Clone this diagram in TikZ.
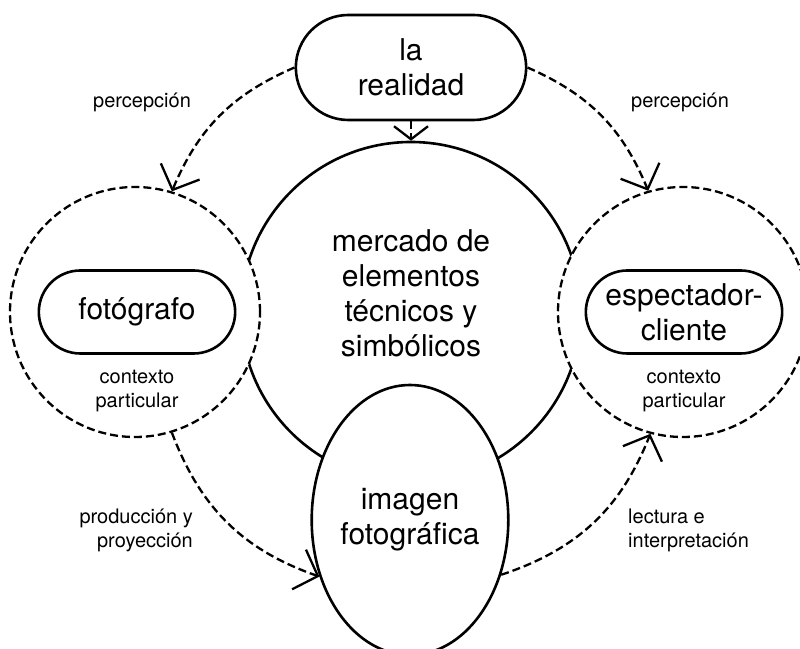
\documentclass[tikz,border=0pt]{standalone}
\usepackage{fontspec}
\setmainfont{TeX Gyre Heros}
\usepackage{tikz}
\usetikzlibrary{positioning}
\usetikzlibrary{shapes.misc,shapes.geometric,arrows.meta}

\tikzset{
	bigtext/.style={font=\fontsize{30}{35}\selectfont, align=center},
	smalltext/.style={font=\fontsize{20}{24}\selectfont, inner sep=0pt},
	pill/.style={draw, line width=2.6pt, rounded rectangle, fill=white, bigtext},
	ctxcircle/.style={draw, circle, line width=2.3pt, dash pattern=on 8pt off 4pt,
		fill=white, minimum size=250pt, inner sep=0pt},
	flow/.style={line width=2.3pt, dash pattern=on 8pt off 4pt,
		-{Straight Barb[length=20pt, width=42pt]}},
	flowshort/.style={flow, -{Straight Barb[length=13pt, width=34pt]}},
}

\begin{document}
\begin{tikzpicture}[x=1pt, y=1pt]
	
	% ------------------------------------------------
	% Keep the page at the size of the reference
	\useasboundingbox (0,0) rectangle (800,648);
	
	% ------------------------------------------------
	% Relevant coordinates
	\coordinate (Mid) at (411,336);
	
	\path (Mid) +(-276,0)  coordinate (CL);
	\path (Mid) +(272,0)   coordinate (CR);
	\path (Mid) +(0,244.5) coordinate (Top);
	\path (Mid) +(-1,-208) coordinate (Bot);
	
	% ----------------
	% Circles and shapes
	\node[draw, circle, line width=2.6pt, fill=white, minimum size=340pt] (mercado) at (Mid) {};
	\node[ctxcircle] (ctxL) at (CL) {};
	\node[ctxcircle] (ctxR) at (CR) {};
	\node[draw, ellipse, line width=2.6pt, fill=white, minimum width=170pt,
		minimum height=270pt, inner sep=0pt, bigtext] (imagen) at (Bot) {imagen\\fotográfica};
	\node[pill, minimum width=237pt, minimum height=105pt] (realidad) at (Top) {la\\realidad};
	\node[pill, minimum width=203pt, minimum height=83pt] (fotografo) at ([xshift=2pt]CL) {fotógrafo};
	\node[pill, minimum width=203pt, minimum height=83pt] (espectador) at ([xshift=1pt]CR) {espectador-\\cliente};
	
	% ----------------
	% Texts
	\node[bigtext] (mercadotxt) at ([yshift=19pt]Mid) {mercado de\\elementos\\técnicos y\\simbólicos};
	\node[smalltext, align=center] (ctxLtxt) at ([xshift=2pt, yshift=-79pt]CL) {contexto\\particular};
	\node[smalltext, align=center] (ctxRtxt) at ([xshift=1pt, yshift=-79pt]CR) {contexto\\particular};
	\node[smalltext, anchor=base] (percL) at (142,540) {percepción};
	\node[smalltext, anchor=base] (percR) at (680,540) {percepción};
	\node[smalltext, align=right, anchor=east] (prod) at (193,118) {producción y\\proyección};
	\node[smalltext, align=left, anchor=west] (lect) at (628,118) {lectura e\\interpretación};
	
	%%%%%%%%%%%%%%%%%%%%%%%%%%%%%%%%%%%%%%%%%
	% Arrows
	\draw[flowshort] (realidad.south) -- (mercado.north);
	\draw[flow] (realidad.west) to[bend right=22] (ctxL.73);
	\draw[flow] (realidad.east) to[bend left=22] (ctxR.106);
	\draw[flow] (ctxL.-73) to[bend right=25] (imagen.212);
	\draw[flow] (imagen.-31) to[bend right=25] (ctxR.-105);
	
\end{tikzpicture}
\end{document}
